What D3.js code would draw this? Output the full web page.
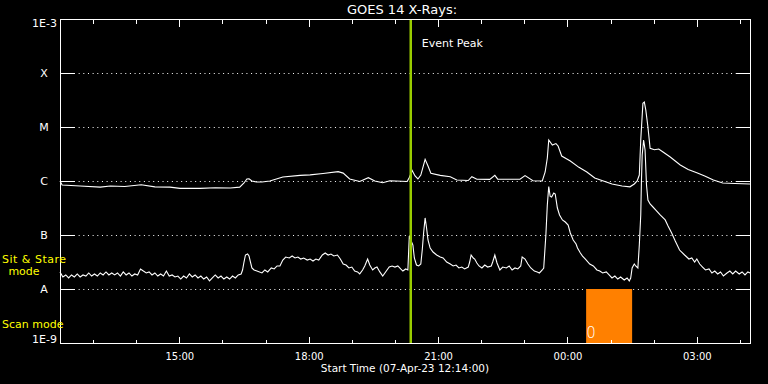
<!DOCTYPE html>
<html>
<head>
<meta charset="utf-8">
<script src="https://cdn.jsdelivr.net/npm/d3@7"></script>
<style>
  html, body { margin: 0; padding: 0; background: #000; }
  svg { display: block; }
</style>
</head>
<body>
<script>
// chart data
const startTime = "2023-04-07T12:14:00";
const spanHours = 16;
const yTickValues = [1e-9, 1e-8, 1e-7, 1e-6, 1e-5, 1e-4, 1e-3];
const yTickLabels = ["1E-9", "A", "B", "C", "M", "X", "1E-3"];
const eventPeakMinute = 488;      // minutes after start
const scanWindow = [732, 796];    // minutes after start
const scanCount = "0";

// [minutes after start, flux W/m^2]  long channel (upper curve)
const longSeries = [
  [0,1.0e-6],[3,8.4e-7],[28,8.1e-7],[56,7.7e-7],[70,8.1e-7],[90,7.9e-7],[113,8.5e-7],[132,7.8e-7],
  [153,7.7e-7],[167,7.3e-7],[195,7.3e-7],[216,7.5e-7],[237,7.4e-7],[250,7.7e-7],[256,9.2e-7],[260,1.09e-6],
  [263,1.1e-6],[267,1.0e-6],[273,9.6e-7],[281,9.6e-7],[292,1.0e-6],[310,1.19e-6],[334,1.27e-6],[348,1.3e-6],
  [366,1.38e-6],[387,1.49e-6],[394,1.4e-6],[403,1.09e-6],[417,9.8e-7],[429,1.15e-6],[438,1.0e-6],[449,9.3e-7],
  [459,1.01e-6],[483,9.8e-7],[486,1.16e-6],[490,1.56e-6],[494,1.24e-6],[498,1.09e-6],[502,1.29e-6],[508,2.52e-6],
  [512,1.9e-6],[516,1.39e-6],[529,1.27e-6],[543,1.2e-6],[552,1.04e-6],[568,1.02e-6],[573,1.2e-6],[580,1.08e-6],
  [598,1.07e-6],[605,1.27e-6],[609,1.08e-6],[640,1.08e-6],[647,1.26e-6],[658,1.01e-6],[671,1.0e-6],[675,1.47e-6],
  [678,2.67e-6],[680,5.74e-6],[685,4.64e-6],[690,4.94e-6],[693,4.45e-6],[698,2.9e-6],[710,2.35e-6],[722,1.79e-6],
  [733,1.47e-6],[744,1.14e-6],[758,9.8e-7],[768,8.8e-7],[782,8.1e-7],[793,7.8e-7],[799,8.8e-7],[803,1.0e-6],
  [806,1.29e-6],[808,5.74e-6],[811,2.74e-5],[813,2.9e-5],[815,2.07e-5],[818,1.0e-5],[821,4.03e-6],[827,3.8e-6],
  [833,3.91e-6],[839,3.44e-6],[849,2.78e-6],[863,1.98e-6],[874,1.63e-6],[886,1.42e-6],[897,1.24e-6],[909,1.04e-6],
  [922,9.2e-7],[939,9.0e-7],[960,8.8e-7]
];

// short channel (lower curve)
const shortSeries = [
  [0,2.07e-8],[4,1.67e-8],[8,1.82e-8],[12,1.6e-8],[16,1.82e-8],[20,1.67e-8],[24,1.9e-8],[28,1.67e-8],
  [32,1.82e-8],[36,1.74e-8],[40,1.98e-8],[44,1.74e-8],[48,1.9e-8],[52,1.74e-8],[56,1.98e-8],[60,1.82e-8],
  [64,2.07e-8],[68,1.82e-8],[72,1.98e-8],[76,1.82e-8],[80,1.98e-8],[84,1.74e-8],[88,2.07e-8],[92,1.82e-8],
  [96,1.98e-8],[100,1.74e-8],[104,1.9e-8],[108,1.82e-8],[112,2.35e-8],[116,2.15e-8],[120,1.98e-8],[124,2.07e-8],
  [128,1.82e-8],[132,1.98e-8],[136,1.74e-8],[140,1.9e-8],[144,1.74e-8],[148,2.15e-8],[152,1.74e-8],[156,1.82e-8],
  [160,1.67e-8],[164,1.74e-8],[168,1.53e-8],[172,1.74e-8],[176,1.6e-8],[180,1.9e-8],[184,1.67e-8],[188,1.82e-8],
  [192,1.6e-8],[196,1.74e-8],[200,1.53e-8],[204,1.67e-8],[208,1.41e-8],[212,1.6e-8],[216,1.82e-8],[220,1.6e-8],
  [224,1.74e-8],[228,1.53e-8],[232,1.67e-8],[236,1.53e-8],[240,1.74e-8],[244,1.6e-8],[248,1.82e-8],[252,1.9e-8],
  [254,2.25e-8],[256,3.16e-8],[258,4.26e-8],[261,4.45e-8],[263,4.08e-8],[265,3.16e-8],[267,2.45e-8],[270,2.25e-8],
  [274,2.15e-8],[281,1.98e-8],[285,2.25e-8],[289,2.07e-8],[294,2.45e-8],[298,2.35e-8],[302,2.67e-8],[306,2.67e-8],
  [310,3.44e-8],[314,3.91e-8],[319,3.75e-8],[323,4.08e-8],[327,3.75e-8],[331,3.91e-8],[335,3.59e-8],[339,3.75e-8],
  [344,3.44e-8],[348,3.59e-8],[352,3.3e-8],[356,3.59e-8],[360,3.44e-8],[365,4.26e-8],[369,4.64e-8],[373,4.26e-8],
  [377,4.45e-8],[381,4.08e-8],[386,4.26e-8],[390,3.59e-8],[394,2.9e-8],[398,2.78e-8],[402,2.45e-8],[406,2.55e-8],
  [410,2.15e-8],[414,2.07e-8],[417,1.9e-8],[421,2.25e-8],[424,2.67e-8],[428,3.59e-8],[431,2.78e-8],[435,2.25e-8],
  [438,2.45e-8],[441,2.55e-8],[445,2.07e-8],[449,1.74e-8],[454,2.15e-8],[458,2.55e-8],[462,2.67e-8],[466,2.55e-8],
  [470,2.67e-8],[474,2.35e-8],[477,2.15e-8],[481,2.35e-8],[484,2.25e-8],[486,9.58e-8],[488,8.09e-8],[491,6.52e-8],
  [493,3.75e-8],[496,2.78e-8],[499,2.67e-8],[502,2.9e-8],[504,5.27e-8],[506,1.14e-7],[508,2.07e-7],[510,1.35e-7],
  [512,8.09e-8],[515,5.74e-8],[519,4.84e-8],[524,4.26e-8],[529,3.91e-8],[533,3.75e-8],[538,3.16e-8],[543,2.9e-8],
  [547,2.67e-8],[551,2.78e-8],[555,2.45e-8],[559,2.55e-8],[563,2.35e-8],[568,2.55e-8],[570,3.16e-8],[572,4.26e-8],
  [575,3.75e-8],[577,3.59e-8],[580,3.03e-8],[583,2.67e-8],[587,2.45e-8],[591,2.78e-8],[595,2.55e-8],[600,2.67e-8],
  [602,3.16e-8],[605,4.26e-8],[608,3.03e-8],[612,2.25e-8],[616,2.55e-8],[621,2.45e-8],[625,2.67e-8],[629,2.25e-8],
  [633,2.45e-8],[637,2.35e-8],[641,2.67e-8],[643,3.91e-8],[647,3.59e-8],[651,2.9e-8],[655,2.45e-8],[660,2.15e-8],
  [664,2.07e-8],[667,1.98e-8],[671,2.25e-8],[673,2.45e-8],[676,1.0e-7],[678,3.59e-7],[680,7.9e-7],[682,5.17e-7],
  [684,5.05e-7],[687,5.99e-7],[689,5.74e-7],[692,3.16e-7],[695,2.35e-7],[699,1.9e-7],[703,1.74e-7],[707,1.53e-7],
  [710,1.09e-7],[714,8.09e-8],[718,6.81e-8],[720,5.74e-8],[724,4.64e-8],[727,4.08e-8],[731,3.59e-8],[737,2.9e-8],
  [742,2.67e-8],[747,2.25e-8],[751,2.15e-8],[755,1.98e-8],[760,2.07e-8],[764,1.82e-8],[768,1.6e-8],[772,1.74e-8],
  [776,1.53e-8],[780,1.67e-8],[785,1.47e-8],[789,1.6e-8],[792,1.41e-8],[794,1.6e-8],[796,2.45e-8],[799,2.9e-8],
  [801,2.67e-8],[804,2.45e-8],[806,6.52e-8],[808,2.35e-7],[809,1.04e-6],[810,3.03e-6],[812,5.74e-6],[814,3.75e-6],
  [816,8.43e-7],[818,4.45e-7],[821,3.75e-7],[825,3.3e-7],[829,2.9e-7],[835,2.35e-7],[842,1.9e-7],[846,1.47e-7],
  [851,1.09e-7],[856,7.74e-8],[862,5.27e-8],[869,4.26e-8],[875,3.59e-8],[879,3.75e-8],[883,3.16e-8],[886,3.59e-8],
  [890,2.9e-8],[894,2.55e-8],[898,2.25e-8],[903,2.35e-8],[907,1.98e-8],[911,2.15e-8],[915,1.9e-8],[919,2.07e-8],
  [923,1.74e-8],[928,1.98e-8],[932,2.15e-8],[936,1.9e-8],[940,2.15e-8],[945,1.9e-8],[949,2.07e-8],[953,1.82e-8],
  [957,2.07e-8],[960,1.98e-8]
];

// canvas
const width = 768;
const height = 384;
const plotLeft = 60, plotRight = 750, plotTop = 19, plotBottom = 343;
const font = "'DejaVu Sans', sans-serif";

const svg = d3.select("body").append("svg")
  .attr("width", width)
  .attr("height", height)
  .style("background-color", "#000");

const t0 = d3.timeParse("%Y-%m-%dT%H:%M:%S")(startTime);
const t1 = d3.timeHour.offset(t0, spanHours);
const at = m => d3.timeMinute.offset(t0, m);

const x = d3.scaleTime().domain([t0, t1]).range([plotLeft, plotRight]);
const y = d3.scaleLog().domain([1e-9, 1e-3]).range([plotBottom, plotTop]);

// grid lines at the flare class levels
const gridVals = yTickValues.slice(1, -1);
const grid = svg.append("g").attr("stroke", "#fff").attr("stroke-width", 1);
gridVals.forEach(v => {
  const yy = Math.round(y(v)) + 0.5;
  grid.append("line").attr("x1", plotLeft + 14).attr("x2", plotRight - 14)
    .attr("y1", yy).attr("y2", yy).attr("stroke-dasharray", "1 3.66");
  grid.append("line").attr("x1", plotLeft).attr("x2", plotLeft + 14).attr("y1", yy).attr("y2", yy);
  grid.append("line").attr("x1", plotRight - 14).attr("x2", plotRight).attr("y1", yy).attr("y2", yy);
});

// scan mode window
svg.append("rect")
  .attr("x", x(at(scanWindow[0])))
  .attr("y", y(1e-8))
  .attr("width", x(at(scanWindow[1])) - x(at(scanWindow[0])))
  .attr("height", y(1e-9) - y(1e-8))
  .attr("fill", "#ff8000");
svg.append("text")
  .attr("x", x(at(scanWindow[0])) + 5)
  .attr("y", y(1e-9) - 5)
  .attr("text-anchor", "middle")
  .attr("fill", "#fff")
  .style("font-family", font)
  .style("font-size", "15px")
  .style("font-weight", "200")
  .text(scanCount);

// flux curves
const line = d3.line()
  .x(d => x(at(d[0])))
  .y(d => y(d[1]));

[longSeries, shortSeries].forEach(s => {
  svg.append("path")
    .datum(s)
    .attr("fill", "none")
    .attr("stroke", "#fff")
    .attr("stroke-width", 1.1)
    .attr("d", line);
});

// event peak marker
const ex = x(at(eventPeakMinute));
svg.append("line")
  .attr("x1", ex).attr("x2", ex)
  .attr("y1", plotTop).attr("y2", plotBottom)
  .attr("stroke", "#99cc00")
  .attr("stroke-width", 2.5);
svg.append("text")
  .attr("x", ex + 11)
  .attr("y", 47)
  .attr("fill", "#fff")
  .style("font-family", font)
  .style("font-size", "11px")
  .text("Event Peak");

// frame
svg.append("rect")
  .attr("x", plotLeft + 0.5).attr("y", plotTop + 0.5)
  .attr("width", plotRight - plotLeft).attr("height", plotBottom - plotTop)
  .attr("fill", "none").attr("stroke", "#fff").attr("stroke-width", 1);

// time axes (ticks inward, top and bottom)
const hours = d3.timeHour.range(t0, t1);
const majors = hours.filter(d => d.getHours() % 3 === 0);
const minors = hours.filter(d => d.getHours() % 3 !== 0);

function timeAxis(axisFn, ypos, vals, size, labels) {
  const g = svg.append("g")
    .attr("transform", `translate(0,${ypos + 0.5})`)
    .call(axisFn(x).tickValues(vals).tickSize(size).tickPadding(9)
      .tickFormat(labels ? d3.timeFormat("%H:%M") : ""));
  g.select(".domain").remove();
  g.selectAll("line").attr("stroke", "#fff").attr("shape-rendering", "crispEdges");
  g.selectAll("text").attr("fill", "#fff").style("font-family", font).style("font-size", "10px");
  return g;
}
timeAxis(d3.axisBottom, plotBottom, majors, -7, true);
timeAxis(d3.axisBottom, plotBottom, minors, -4, false);
timeAxis(d3.axisTop, plotTop, majors, -7, false);
timeAxis(d3.axisTop, plotTop, minors, -4, false);

// flux labels
const last = yTickValues.length - 1;
svg.append("g").selectAll("text")
  .data(yTickValues)
  .join("text")
  .attr("x", (d, i) => (i === 0 || i === last) ? 57 : 44)
  .attr("y", (d, i) => y(d) + (i === 0 ? -4 : i === last ? 4 : 0))
  .attr("dy", "0.36em")
  .attr("text-anchor", (d, i) => (i === 0 || i === last) ? "end" : "middle")
  .attr("fill", "#fff")
  .style("font-family", font)
  .style("font-size", "11px")
  .text((d, i) => yTickLabels[i]);

// mode labels
const modeText = svg.append("g").attr("fill", "#ffff00")
  .style("font-family", font).style("font-size", "11px");
modeText.append("text").attr("x", 2).attr("y", 263).attr("textLength", 64).text("Sit & Stare");
modeText.append("text").attr("x", 24).attr("y", 275).attr("text-anchor", "middle").text("mode");
modeText.append("text").attr("x", 2).attr("y", 328).text("Scan mode");

// titles
svg.append("text")
  .attr("x", 402).attr("y", 14)
  .attr("text-anchor", "middle")
  .attr("fill", "#fff")
  .style("font-family", font)
  .style("font-size", "13px")
  .text("GOES 14 X-Rays:");

svg.append("text")
  .attr("x", 405).attr("y", 372)
  .attr("text-anchor", "middle")
  .attr("fill", "#fff")
  .style("font-family", font)
  .style("font-size", "10.5px")
  .text("Start Time (07-Apr-23 12:14:00)");
</script>
</body>
</html>
